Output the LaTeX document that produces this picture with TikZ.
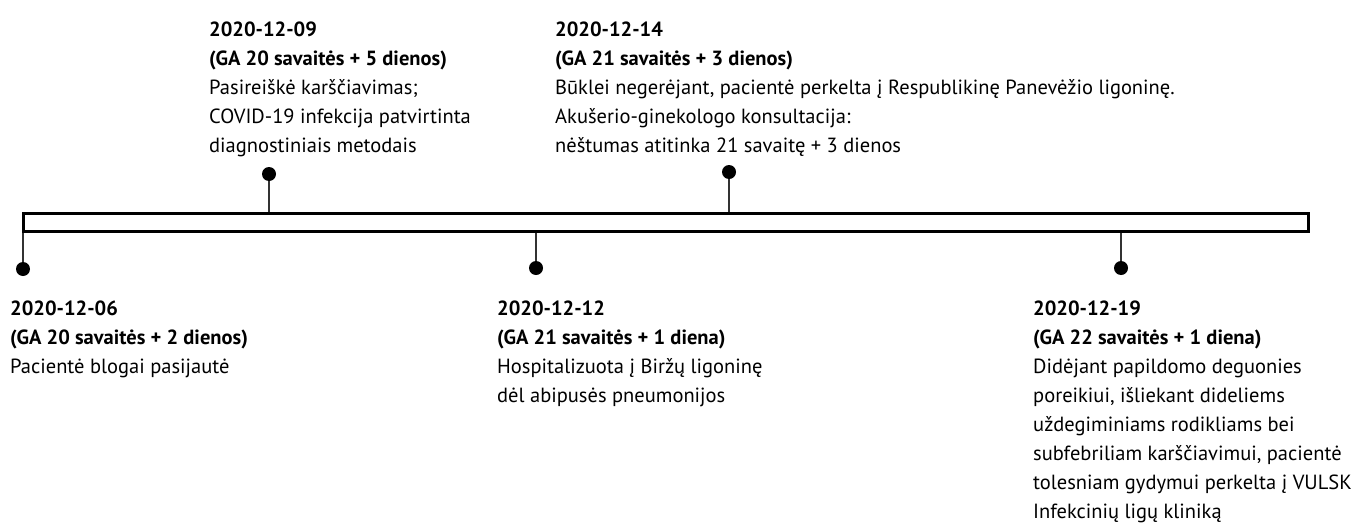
\documentclass[tikz,border=0pt]{standalone}
\usepackage{fontspec}
\setmainfont{PT Sans}
\begin{document}
\begin{tikzpicture}[x=1pt,y=-1pt,
  evtext/.style={anchor=base west,inner sep=0pt,align=left,
    font=\fontsize{20.5}{29}\selectfont},
  tick/.style={draw=black!80,line width=1.1pt},
  dotmark/.style={circle,fill=black,inner sep=0pt,minimum size=14pt},
  barbox/.style={draw=black,line width=2.6pt,fill=white,inner sep=0pt,
    minimum width=1285pt,minimum height=18pt,anchor=north west}]
\useasboundingbox (0,0) rectangle (1351,522);
% bar
\node[barbox] (bar) at (22,212) {};
% dots
\node[dotmark] (d06) at (23,269) {};
\node[dotmark] (d09) at (269,174) {};
\node[dotmark] (d12) at (536,268) {};
\node[dotmark] (d14) at (729,172) {};
\node[dotmark] (d19) at (1121,268) {};
% ticks
\draw[tick] (d06) -- (d06 |- bar.south);
\draw[tick] (d09) -- (d09 |- bar.north);
\draw[tick] (d12) -- (d12 |- bar.south);
\draw[tick] (d14) -- (d14 |- bar.north);
\draw[tick] (d19) -- (d19 |- bar.south);
% texts (anchor = baseline of the last line)
\node[evtext] (t06) at (10,373) {\textbf{2020-12-06}\\\textbf{(GA 20 savaitės + 2 dienos)}\\Pacientė blogai pasijautė};
\node[evtext] (t09) at (209,152) {\textbf{2020-12-09}\\\textbf{(GA 20 savaitės + 5 dienos)}\\Pasireiškė karščiavimas;\\COVID-19 infekcija patvirtinta\\diagnostiniais metodais};
\node[evtext] (t12) at (497,402) {\textbf{2020-12-12}\\\textbf{(GA 21 savaitės + 1 diena)}\\Hospitalizuota į Biržų ligoninę\\dėl abipusės pneumonijos};
\node[evtext] (t14) at (555,152) {\textbf{2020-12-14}\\\textbf{(GA 21 savaitės + 3 dienos)}\\Būklei negerėjant, pacientė perkelta į Respublikinę Panevėžio ligoninę.\\Akušerio-ginekologo konsultacija:\\nėštumas atitinka 21 savaitę + 3 dienos};
\node[evtext] (t19) at (1033,518) {\textbf{2020-12-19}\\\textbf{(GA 22 savaitės + 1 diena)}\\Didėjant papildomo deguonies\\poreikiui, išliekant dideliems\\uždegiminiams rodikliams bei\\subfebriliam karščiavimui, pacientė\\tolesniam gydymui perkelta į VULSK\\Infekcinių ligų kliniką};
\end{tikzpicture}
\end{document}
